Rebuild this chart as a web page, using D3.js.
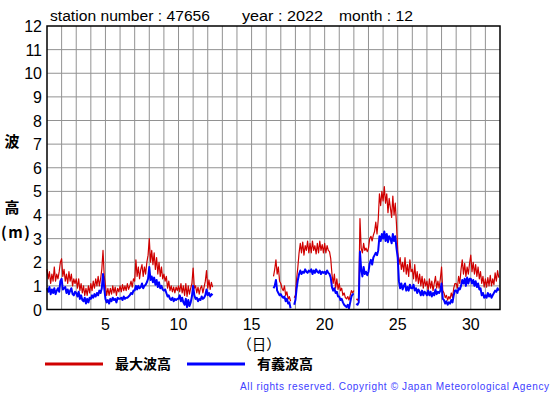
<!DOCTYPE html>
<html>
<head>
<meta charset="utf-8">
<script src="https://cdn.jsdelivr.net/npm/d3@7"></script>
<style>
  body { margin: 0; background: #fff; }
  svg { display: block; font-family: "Liberation Sans", Arial, sans-serif; }
</style>
</head>
<body>
<div class="chart"></div>
<script>
// 2-hourly values, 12 per day, Dec 1 .. Dec 31 (null = no data)
const maxWave = [
  1.7,1.3,1.6,1.1,1.5,1.2,1.8,1.2,1.5,1.3,1.6,2.0,
  2.15,1.4,1.7,1.2,1.5,1.1,1.6,1.2,1.5,1.0,1.3,1.1,
  1.3,0.9,1.3,0.8,1.1,0.7,1.0,0.6,0.9,0.6,1.0,0.7,
  1.1,0.8,1.2,0.9,1.3,1.0,1.4,1.0,1.3,1.7,2.5,1.4,
  1.0,0.6,0.9,0.6,0.9,0.65,1.0,0.7,0.95,0.6,0.9,0.75,
  1.0,0.75,1.05,0.8,1.0,0.8,1.1,0.85,1.0,1.2,0.95,1.3,
  1.2,2.1,1.4,1.8,1.3,1.7,1.9,1.4,1.8,1.5,2.0,2.3,
  3.0,2.0,2.5,1.9,2.4,1.7,2.2,1.5,2.0,1.4,1.8,1.3,
  1.5,1.2,1.4,0.9,1.2,0.8,1.0,0.75,0.95,0.7,0.95,0.8,
  1.0,0.75,1.1,0.7,1.0,0.6,1.1,0.55,1.0,0.65,0.9,1.1,
  1.75,0.9,1.0,0.7,0.95,0.65,0.9,1.0,0.7,0.95,1.2,1.65,
  0.9,1.25,0.85,1.15,0.95,null,null,null,null,null,null,null,
  null,null,null,null,null,null,null,null,null,null,null,null,
  null,null,null,null,null,null,null,null,null,null,null,null,
  null,null,null,null,null,null,null,null,null,null,null,null,
  null,null,null,null,null,null,1.4,1.7,2.1,1.5,1.8,1.2,
  1.1,0.9,0.8,1.0,0.6,0.75,0.45,0.55,0.35,null,null,0.5,
  0.6,1.3,1.8,2.4,2.8,2.4,2.85,2.3,2.7,2.5,2.9,2.4,
  2.8,2.4,2.9,2.5,2.7,2.35,2.8,2.4,2.9,2.5,2.75,2.4,
  2.8,2.4,2.7,2.5,2.45,2.15,1.5,1.1,1.5,0.9,1.3,0.85,
  1.1,0.8,0.9,0.6,0.7,0.5,0.45,0.55,0.4,0.6,0.8,0.7,
  0.8,null,0.45,0.4,0.5,3.85,2.6,2.4,2.8,2.5,2.6,2.45,
  2.6,3.0,3.1,2.9,3.15,3.3,3.7,3.2,3.8,4.9,4.4,5.0,
  4.6,5.2,4.5,4.9,4.1,4.7,4.3,3.9,4.8,4.0,4.5,3.6,
  2.5,1.9,2.2,1.7,2.0,1.6,2.2,1.5,1.9,1.4,2.1,1.6,
  1.7,1.3,1.9,1.2,1.6,1.1,1.5,1.0,1.4,0.9,1.3,1.0,
  1.2,0.8,1.3,0.9,1.2,0.8,1.1,1.4,0.9,1.2,0.9,1.3,
  1.8,0.8,0.7,0.5,0.6,0.4,0.55,0.45,0.7,0.5,0.9,1.1,
  1.1,0.9,1.4,1.1,1.7,2.1,1.5,1.95,1.4,1.8,1.5,1.95,
  2.3,1.6,2.0,1.5,1.9,1.4,1.8,1.3,1.6,1.1,1.4,0.95,
  1.3,0.95,1.35,1.0,1.45,1.0,1.3,1.05,1.55,1.2,1.65,1.35
];
const sigWave = [
  0.9,0.75,0.95,0.65,0.85,0.7,0.9,0.65,0.8,0.9,0.75,1.2,
  1.3,0.85,0.9,0.95,0.7,0.85,0.65,0.8,0.9,0.65,0.6,0.75,
  0.7,0.55,0.75,0.45,0.6,0.4,0.35,0.5,0.25,0.45,0.3,0.5,
  0.45,0.6,0.5,0.65,0.55,0.7,0.6,0.8,0.7,0.9,1.5,0.9,
  0.45,0.3,0.4,0.25,0.45,0.35,0.5,0.4,0.45,0.3,0.5,0.45,
  0.45,0.5,0.4,0.55,0.45,0.5,0.5,0.55,0.6,0.7,0.65,0.8,
  0.8,1.0,0.85,1.0,0.9,0.95,1.1,0.9,1.0,1.05,1.15,1.3,
  1.8,1.25,1.4,1.15,1.35,1.05,1.25,0.95,1.15,0.9,1.0,0.85,
  0.8,0.85,0.7,0.55,0.6,0.45,0.4,0.5,0.35,0.45,0.4,0.45,
  0.45,0.6,0.35,0.5,0.3,0.2,0.45,0.1,0.4,0.15,0.3,0.55,
  1.0,0.6,0.45,0.5,0.35,0.45,0.4,0.55,0.45,0.5,0.6,0.85,
  0.6,0.7,0.55,0.65,0.6,null,null,null,null,null,null,null,
  null,null,null,null,null,null,null,null,null,null,null,null,
  null,null,null,null,null,null,null,null,null,null,null,null,
  null,null,null,null,null,null,null,null,null,null,null,null,
  null,null,null,null,null,null,0.9,1.0,1.25,0.8,0.7,0.6,
  0.65,0.55,0.5,0.55,0.35,0.45,0.25,0.3,0.05,null,null,0.2,
  0.4,0.9,1.25,1.5,1.65,1.5,1.6,1.55,1.7,1.6,1.55,1.65,
  1.6,1.7,1.5,1.65,1.55,1.7,1.6,1.55,1.65,1.5,1.6,1.55,
  1.6,1.5,1.65,1.55,1.5,1.35,0.95,0.8,0.9,0.7,0.75,0.55,
  0.55,0.4,0.45,0.3,0.2,0.15,0.1,0.2,0.05,0.3,0.55,0.65,
  0.65,null,0.25,0.2,0.3,2.45,1.7,1.4,1.8,1.5,1.6,1.45,
  1.6,1.95,2.1,1.9,2.2,2.3,2.4,2.3,2.5,3.1,2.9,3.2,
  3.0,3.3,2.9,3.2,2.85,3.1,3.0,2.8,3.2,2.9,3.1,2.6,
  2.2,1.2,0.9,1.1,0.85,1.0,1.1,0.8,0.95,0.8,1.05,0.9,
  0.9,1.05,0.8,0.9,0.7,0.85,0.75,0.6,0.8,0.6,0.75,0.7,
  0.6,0.8,0.6,0.75,0.55,0.7,0.6,0.85,0.65,0.75,0.7,0.8,
  1.1,0.45,0.4,0.25,0.35,0.2,0.3,0.25,0.4,0.3,0.6,0.8,
  0.8,0.7,0.9,0.85,1.0,1.25,1.1,1.3,1.0,1.35,1.1,1.3,
  1.3,1.1,1.25,1.0,1.2,0.95,1.1,0.85,0.9,0.6,0.7,0.5,
  0.6,0.5,0.7,0.55,0.65,0.5,0.6,0.7,0.8,0.75,0.9,0.8
];
const xTicks = [5, 10, 15, 20, 25, 30];
const yTicks = [0, 1, 2, 3, 4, 5, 6, 7, 8, 9, 10, 11, 12];
const titleParts = ["station number : 47656", "year : 2022", "month : 12"];
const legendNames = ["最大波高", "有義波高"];

const w = 555, h = 395;
const padLeft = 47, padRight = 500, padTop = 26, padBottom = 309.5;

const svg = d3.select('.chart').append('svg')
  .attr('width', w).attr('height', h);

const xScale = d3.scaleLinear().domain([1, 32]).range([padLeft, padRight]);
const yScale = d3.scaleLinear().domain([0, 12]).range([padBottom, padTop]);

// grid
svg.append('g')
  .selectAll('line')
  .data(d3.range(2, 32))
  .join('line')
  .attr('x1', d => xScale(d)).attr('x2', d => xScale(d))
  .attr('y1', padTop).attr('y2', padBottom)
  .attr('stroke', '#929292').attr('stroke-width', 1);
svg.append('g')
  .selectAll('line')
  .data(yTicks.slice(1, -1))
  .join('line')
  .attr('x1', padLeft).attr('x2', padRight)
  .attr('y1', d => yScale(d)).attr('y2', d => yScale(d))
  .attr('stroke', '#929292').attr('stroke-width', 1);

// y axis labels
svg.append('g')
  .selectAll('text')
  .data(yTicks)
  .join('text')
  .attr('x', 42).attr('y', d => yScale(d) + 6)
  .attr('text-anchor', 'end')
  .attr('font-size', 16)
  .text(d => d);

// x axis labels
svg.append('g')
  .selectAll('text')
  .data(xTicks)
  .join('text')
  .attr('x', d => xScale(d)).attr('y', 330)
  .attr('text-anchor', 'middle')
  .attr('font-size', 16)
  .text(d => d);

const cjk = '"Noto Sans CJK JP", sans-serif';
svg.append('text').attr('x', 259).attr('y', 350)
  .attr('text-anchor', 'middle').attr('font-family', cjk).attr('font-size', 14.5)
  .text('（日）');
svg.append('text').attr('x', 12).attr('y', 147)
  .attr('text-anchor', 'middle').attr('font-family', cjk).attr('font-size', 15).attr('font-weight', 'bold')
  .text('波');
svg.append('text').attr('x', 12).attr('y', 213)
  .attr('text-anchor', 'middle').attr('font-family', cjk).attr('font-size', 15).attr('font-weight', 'bold')
  .text('高');
svg.append('text').attr('x', 1).attr('y', 238)
  .attr('font-family', cjk).attr('font-size', 15).attr('font-weight', 'bold')
  .attr('letter-spacing', 1.5)
  .text('(m)');

// title
const titleX = [50, 242, 339];
const titleW = [160, 81, 74];
svg.append('g')
  .selectAll('text')
  .data(titleParts)
  .join('text')
  .attr('x', (d, i) => titleX[i]).attr('y', 21)
  .attr('font-size', 15.5)
  .attr('textLength', (d, i) => titleW[i]).attr('lengthAdjust', 'spacingAndGlyphs')
  .text(d => d);

// series
const pts = arr => arr.map((v, i) => ({ day: 1 + i / 12, v }));
const line = d3.line()
  .defined(d => d.v !== null)
  .x(d => xScale(d.day))
  .y(d => yScale(d.v));

svg.append('path')
  .datum(pts(maxWave))
  .attr('fill', 'none')
  .attr('stroke', '#d00000')
  .attr('stroke-width', 1.2)
  .attr('stroke-linejoin', 'round')
  .attr('d', line);

svg.append('path')
  .datum(pts(sigWave))
  .attr('fill', 'none')
  .attr('stroke', '#0000ff')
  .attr('stroke-width', 2)
  .attr('stroke-linejoin', 'round')
  .attr('d', line);

// frame
svg.append('rect')
  .attr('x', padLeft).attr('y', padTop)
  .attr('width', padRight - padLeft).attr('height', padBottom - padTop)
  .attr('fill', 'none').attr('stroke', '#000').attr('stroke-width', 1.5);

// legend
const legendX = [45, 187];
const legendColors = ['#d00000', '#0000ff'];
const lg = svg.append('g');
lg.selectAll('line')
  .data(legendNames)
  .join('line')
  .attr('x1', (d, i) => legendX[i]).attr('x2', (d, i) => legendX[i] + 58)
  .attr('y1', 364).attr('y2', 364)
  .attr('stroke', (d, i) => legendColors[i]).attr('stroke-width', 3);
lg.selectAll('text')
  .data(legendNames)
  .join('text')
  .attr('x', (d, i) => legendX[i] + 70).attr('y', 369)
  .attr('font-family', cjk).attr('font-size', 14).attr('font-weight', 'bold')
  .text(d => d);

svg.append('text')
  .attr('x', 240).attr('y', 390)
  .attr('font-size', 10)
  .attr('fill', '#4040ff')
  .attr('textLength', 309).attr('lengthAdjust', 'spacing')
  .text('All rights reserved. Copyright © Japan Meteorological Agency');
</script>
</body>
</html>
